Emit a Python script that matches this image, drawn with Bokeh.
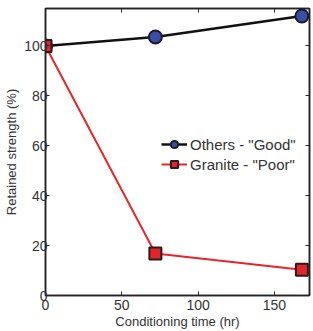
from bokeh.plotting import figure
from bokeh.models import Range1d, LinearAxis, Legend, LegendItem, FixedTicker, CustomJSTickFormatter
from bokeh.embed import file_html
from bokeh.resources import INLINE

time_hr = [0, 72, 168]
others_good = [100, 103.6, 112]
granite_poor = [100, 16.8, 10.3]
x_ticks = [0, 50, 100, 150]
y_ticks = [0, 20, 40, 60, 80, 100]

FONT = "Liberation Sans"

p = figure(width=313, height=331, output_backend="svg", toolbar_location=None,
           x_range=Range1d(0, 173), y_range=Range1d(0, 115),
           min_border_left=45, min_border_right=4, min_border_top=8, min_border_bottom=10)
p.grid.visible = False
p.outline_line_color = "#222222"
p.outline_line_width = 1.5
p.background_fill_color = "white"
p.border_fill_color = "white"

def style_axis(ax, labels=True):
    ax.major_tick_in = 4
    ax.major_tick_out = 0
    ax.minor_tick_line_color = None
    ax.axis_line_color = "#222222"
    ax.axis_line_width = 1.5
    ax.major_tick_line_color = "#222222"
    ax.major_label_text_font = FONT
    ax.major_label_text_font_size = "14px"
    ax.major_label_text_color = "#333333"
    ax.axis_label_text_font = FONT
    ax.axis_label_text_font_size = "13px"
    ax.axis_label_text_font_style = "normal"
    ax.axis_label_text_color = "#333333"
    if not labels:
        ax.formatter = CustomJSTickFormatter(code="return '';")
        ax.major_label_text_color = None
        ax.major_label_standoff = 0

p.xaxis.ticker = FixedTicker(ticks=x_ticks)
p.yaxis.ticker = FixedTicker(ticks=y_ticks)
p.xaxis.axis_label = "Conditioning time (hr)"
p.yaxis.axis_label = "Retained strength (%)"
style_axis(p.xaxis[0])
style_axis(p.yaxis[0])
p.xaxis.axis_label_standoff = 1
p.yaxis.axis_label_standoff = 2
p.xaxis.major_label_standoff = 4
p.yaxis.major_label_standoff = -2

top = LinearAxis(ticker=FixedTicker(ticks=x_ticks))
right = LinearAxis(ticker=FixedTicker(ticks=y_ticks))
style_axis(top, labels=False)
style_axis(right, labels=False)
p.add_layout(top, "above")
p.add_layout(right, "right")

l1 = p.line(time_hr, others_good, line_color="#111111", line_width=2.5)
m1 = p.scatter(time_hr, others_good, marker="circle", size=13,
               fill_color="#3a4ea6", line_color="#1a1a2a", line_width=2)
l2 = p.line(time_hr, granite_poor, line_color="#e8262a", line_width=2)
m2 = p.scatter(time_hr, granite_poor, marker="square", size=12,
               fill_color="#e4232a", line_color="#2a1a1a", line_width=2)

legend = Legend(items=[
    LegendItem(label='Others - "Good"', renderers=[l1, m1]),
    LegendItem(label='Granite - "Poor"', renderers=[l2, m2]),
], location=(116, 122))
legend.background_fill_alpha = 0
legend.border_line_color = None
legend.label_text_font = FONT
legend.label_text_font_size = "15px"
legend.label_text_color = "#333333"
legend.glyph_width = 26
legend.glyph_height = 18
legend.label_standoff = 3
legend.spacing = 2
legend.padding = 2
legend.margin = 0
legend.label_height = 18
p.add_layout(legend)

open("out.html", "w").write(file_html(p, INLINE))
